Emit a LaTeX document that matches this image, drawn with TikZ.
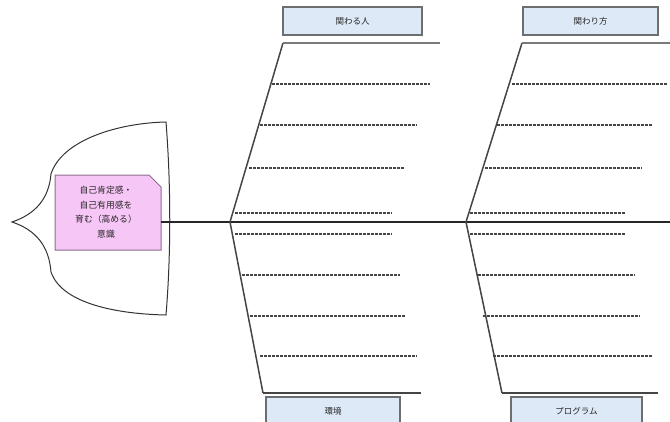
\documentclass[tikz,border=0pt]{standalone}
\usepackage{fontspec}
\newfontfamily\jp{Noto Sans CJK JP}
\definecolor{lblfill}{HTML}{DDE9F7}
\definecolor{lbldraw}{HTML}{6E6E6E}
\definecolor{pinkfill}{HTML}{F6C6F6}
\definecolor{pinkdraw}{HTML}{8C6E8C}
\definecolor{bonegray}{HTML}{454545}
\definecolor{topgray}{HTML}{7A7A7A}
\begin{document}
\begin{tikzpicture}[x=1pt,y=-1pt,
  lbl/.style={draw=lbldraw,line width=1.2pt,fill=lblfill,minimum height=28pt,inner sep=0pt,font=\jp\fontsize{8.5}{9}\selectfont,text=black!85},
  bone/.style={draw=bonegray,line width=1.5pt},
  shelf/.style={draw=topgray,line width=2.2pt},
  twig/.style={draw=bonegray,line width=1.6pt,dash pattern=on 3pt off 1pt},
  spine/.style={draw=black!85,line width=2.4pt}]
\useasboundingbox (0,0) rectangle (670,421);
% head
\draw[line width=1pt,black!80] (12,222) .. controls (36,214) and (49,198) .. (51,174)
  .. controls (62,140) and (118,123) .. (166,122)
  .. controls (171,185) and (171,255) .. (166,315)
  .. controls (118,314) and (62,304) .. (51,272)
  .. controls (49,246) and (36,230) .. (12,222) -- cycle;
% pink box
\draw[fill=pinkfill,draw=pinkdraw,line width=1pt] (55,175) -- (149,175) -- (161,187) -- (161,250) -- (55,250) -- cycle;
\node[font=\jp\fontsize{8.8}{14.5}\selectfont,align=center,text=black!85] (head) at (106,212)
  {自己肯定感・\\自己有用感を\\育む（高める）\\意識};
\coordinate (sp0) at (161,222);
\coordinate (sp1) at (670,222);
\draw[spine] (sp0) -- (sp1);
% labels
\node[lbl,minimum width=139pt] (hito) at (352.5,21) {関わる人};
\node[lbl,minimum width=135pt] (kata) at (590.5,21) {関わり方};
\node[lbl,minimum width=134pt] (kankyo) at (333,411) {環境};
\node[lbl,minimum width=131pt] (prog) at (576.5,411) {プログラム};
% bones
\coordinate (a0) at (230,222); \coordinate (a1) at (283,43); \coordinate (a2) at (440,43);
\coordinate (b1) at (263,393); \coordinate (b2) at (421,393);
\coordinate (c0) at (466,222); \coordinate (c1) at (522,43); \coordinate (c2) at (670,43);
\coordinate (d1) at (502,393); \coordinate (d2) at (658,393);
\draw[bone] (a0) -- (a1); \draw[shelf] (a1) -- (a2);
\draw[bone] (a0) -- (b1); \draw[bone] (b1) -- (b2);
\draw[bone] (c0) -- (c1); \draw[shelf] (c1) -- (c2);
\draw[bone] (c0) -- (d1); \draw[bone] (d1) -- (d2);
% twigs
\foreach \xa/\xb/\y in {272/430/84, 260/417/125, 249/405/168, 235/392/213,
                        235/392/234, 242/400/275, 250/405/316, 260/417/356,
                        512/668/84, 497/653/125, 485/642/168, 470/625/213,
                        470/625/234, 478/635/275, 483/640/316, 493/652/356}
  \draw[twig] (\xa,\y) -- (\xb,\y);
\end{tikzpicture}
\end{document}
